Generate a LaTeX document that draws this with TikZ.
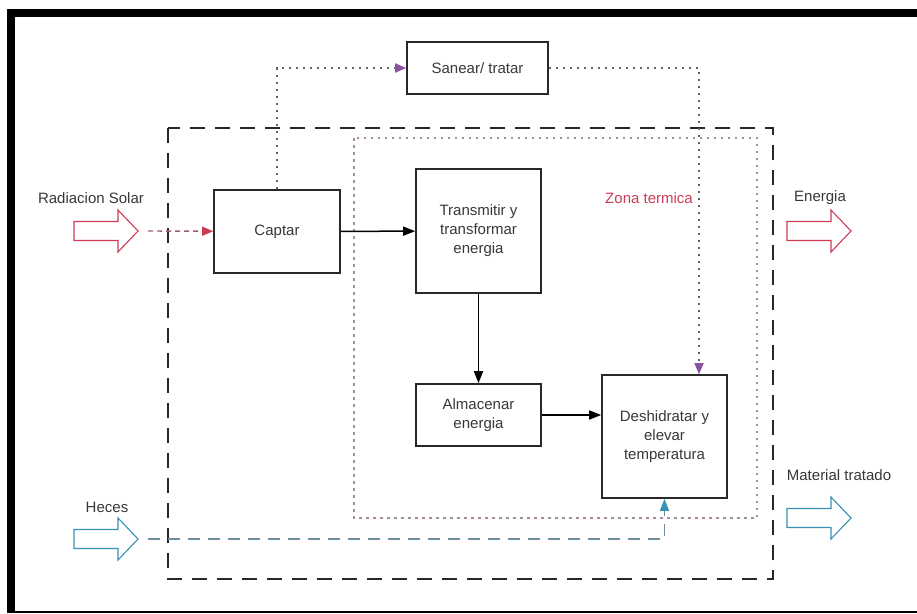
\documentclass[tikz,border=0pt]{standalone}
\usepackage{fontspec}
\setmainfont{Liberation Sans}
\usetikzlibrary{arrows.meta}

\definecolor{texto}{RGB}{55,55,55}
\definecolor{linha}{RGB}{40,40,40}
\definecolor{vermelho}{RGB}{205,60,85}
\definecolor{linhaverm}{RGB}{160,95,105}
\definecolor{azul}{RGB}{55,145,180}
\definecolor{linhaazul}{RGB}{110,140,155}
\definecolor{roxo}{RGB}{140,80,165}
\definecolor{pontos}{RGB}{100,100,100}
\definecolor{zona}{RGB}{165,140,155}

\tikzset{
  caixa/.style={draw=linha, line width=1.6pt, text=texto, align=center, inner sep=0pt},
  rotulo/.style={text=texto, inner sep=0pt},
  seta/.style={-{Triangle[length=12pt,width=9pt]}, line width=1.5pt, draw=black},
  pontilhado/.style={draw=pontos, line width=1.7pt, dash pattern=on 2.5pt off 4.5pt},
  setabloco/.style={line width=1.1pt, fill=white, line join=miter},
}

\begin{document}
\begin{tikzpicture}[x=1pt, y=-1pt, font=\fontsize{15}{19}\selectfont]
  \useasboundingbox (0,0) rectangle (917,613);
  % moldura
  \fill[black] (7,9) rectangle (917,17);
  \fill[black] (7,9) rectangle (15,613);
  \fill[black] (7,610.5) rectangle (917,613);

  % caixas
  \node[caixa, minimum width=141pt, minimum height=52pt] (sanear) at (477.5,68) {Sanear/ tratar};
  \node[caixa, minimum width=126pt, minimum height=83pt] (captar) at (277,231.5) {Captar};
  \node[caixa, minimum width=125pt, minimum height=124pt] (transmitir) at (478.5,231) {Transmitir y\\transformar\\energia};
  \node[caixa, minimum width=125pt, minimum height=62pt] (almacenar) at (478.5,415) {Almacenar\\energia};
  \node[caixa, minimum width=125pt, minimum height=123pt] (deshidratar) at (664.5,436.5) {Deshidratar y\\elevar\\temperatura};

  % limites
  \draw[linha, line width=2.2pt, dash pattern=on 15pt off 10pt] (168,128) rectangle (773,579);
  \draw[zona, line width=1.7pt, dash pattern=on 2.5pt off 4.5pt] (354,138) rectangle (757,518);
  \node[text=vermelho, inner sep=0pt] (zonatermica) at (649,198) {Zona termica};

  % setas grandes
  \draw[vermelho, setabloco] (74,221.5) -- (118,221.5) -- (118,210) -- (138,231) -- (118,252) -- (118,240.5) -- (74,240.5) -- cycle;
  \coordinate (solar) at (138,231);
  \draw[vermelho, setabloco] (787,221.5) -- (831,221.5) -- (831,210) -- (851,231) -- (831,252) -- (831,240.5) -- (787,240.5) -- cycle;
  \draw[azul, setabloco] (74,529.5) -- (118,529.5) -- (118,518) -- (138,539) -- (118,560) -- (118,548.5) -- (74,548.5) -- cycle;
  \coordinate (heces) at (138,539);
  \draw[azul, setabloco] (787,508.5) -- (831,508.5) -- (831,497) -- (851,518) -- (831,539) -- (831,527.5) -- (787,527.5) -- cycle;

  \node[rotulo] (lbsolar) at (91,198) {Radiacion Solar};
  \node[rotulo] (lbenergia) at (820,198) {Energia};
  \node[rotulo] (lbheces) at (107,507) {Heces};
  \node[rotulo] (lbmaterial) at (839,475) {Material tratado};

  % conexoes
  \draw[linhaverm, line width=1.4pt, dash pattern=on 5pt off 4pt, -{Triangle[length=11pt,width=9pt,color=vermelho]}] ([xshift=10pt]solar) -- (captar);
  \draw[seta] (captar) -- (transmitir);
  \draw[seta] (transmitir) -- (almacenar);
  \draw[seta] (almacenar.east) -- (almacenar.east -| deshidratar.west);
  \draw[pontilhado, -{Triangle[length=11pt,width=9pt,color=roxo]}] (captar.north) |- (sanear.west);
  \draw[pontilhado, -{Triangle[length=11pt,width=9pt,color=roxo]}] (sanear.east) -| ([xshift=34.5pt]deshidratar.north);
  \draw[linhaazul, line width=1.5pt, dash pattern=on 12pt off 8pt, -{Triangle[length=12pt,width=9pt,color=azul]}] ([xshift=10pt]heces) -| (deshidratar.south);
\end{tikzpicture}
\end{document}
